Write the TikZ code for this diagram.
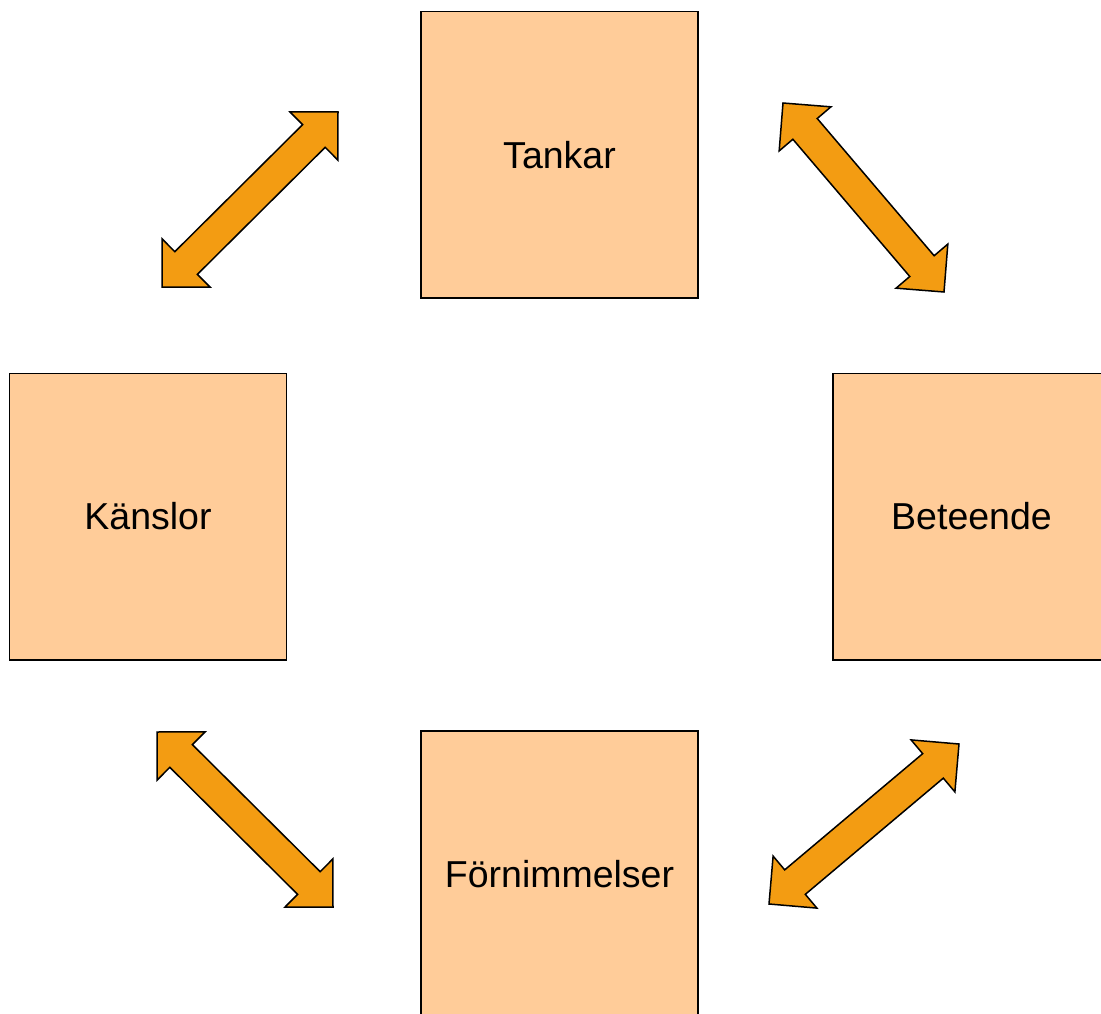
\documentclass[tikz,border=0pt]{standalone}
\usepackage{fontspec}
\setmainfont{Liberation Sans}
\usetikzlibrary{calc}

\definecolor{boxfill}{RGB}{255,204,153}
\definecolor{arrowfill}{RGB}{243,156,18}

% Fat double-headed arrow between two tip coordinates
\newcommand{\fatarrow}[2]{%
  \coordinate (ba) at ($(#1)!34pt!(#2)$);
  \coordinate (bb) at ($(#2)!34pt!(#1)$);
  \draw[arrowbody] (#1)
    -- ($(ba)!34pt!90:(#2)$) -- ($(ba)!16pt!90:(#2)$)
    -- ($(bb)!16pt!90:(#2)$) -- ($(bb)!34pt!90:(#2)$)
    -- (#2)
    -- ($(bb)!34pt!-90:(#2)$) -- ($(bb)!16pt!-90:(#2)$)
    -- ($(ba)!16pt!-90:(#2)$) -- ($(ba)!34pt!-90:(#2)$)
    -- cycle;}

\begin{document}
\begin{tikzpicture}[x=1pt,y=-1pt,
  concept/.style={draw=black, line width=1.5pt, fill=boxfill,
    minimum width=277pt, minimum height=286.5pt, inner sep=0pt,
    font=\fontsize{37.5}{44}\selectfont},
  arrowbody/.style={draw=black, line width=1.5pt, fill=arrowfill, line join=miter}]
  \useasboundingbox (0,0) rectangle (1101,1014);
  \clip (0,0) rectangle (1101,1014);

  % the four boxes
  \node[concept] (tankar) at (559.5,154.75) {Tankar};
  \node[concept] (kanslor) at (148,516.5) {Känslor};
  \node[concept] (beteende) at (971.5,516.5) {Beteende};
  \node[concept] (fornimmelser) at (559.5,874) {Förnimmelser};

  % arrow tip positions
  \coordinate (a1s) at (162,287);  \coordinate (a1e) at (338,112);
  \coordinate (a2s) at (783,103);  \coordinate (a2e) at (944,292);
  \coordinate (a3s) at (157,732);  \coordinate (a3e) at (333,907);
  \coordinate (a4s) at (769,904);  \coordinate (a4e) at (959,744);

  \fatarrow{a1s}{a1e}
  \fatarrow{a2s}{a2e}
  \fatarrow{a3s}{a3e}
  \fatarrow{a4s}{a4e}
\end{tikzpicture}
\end{document}
